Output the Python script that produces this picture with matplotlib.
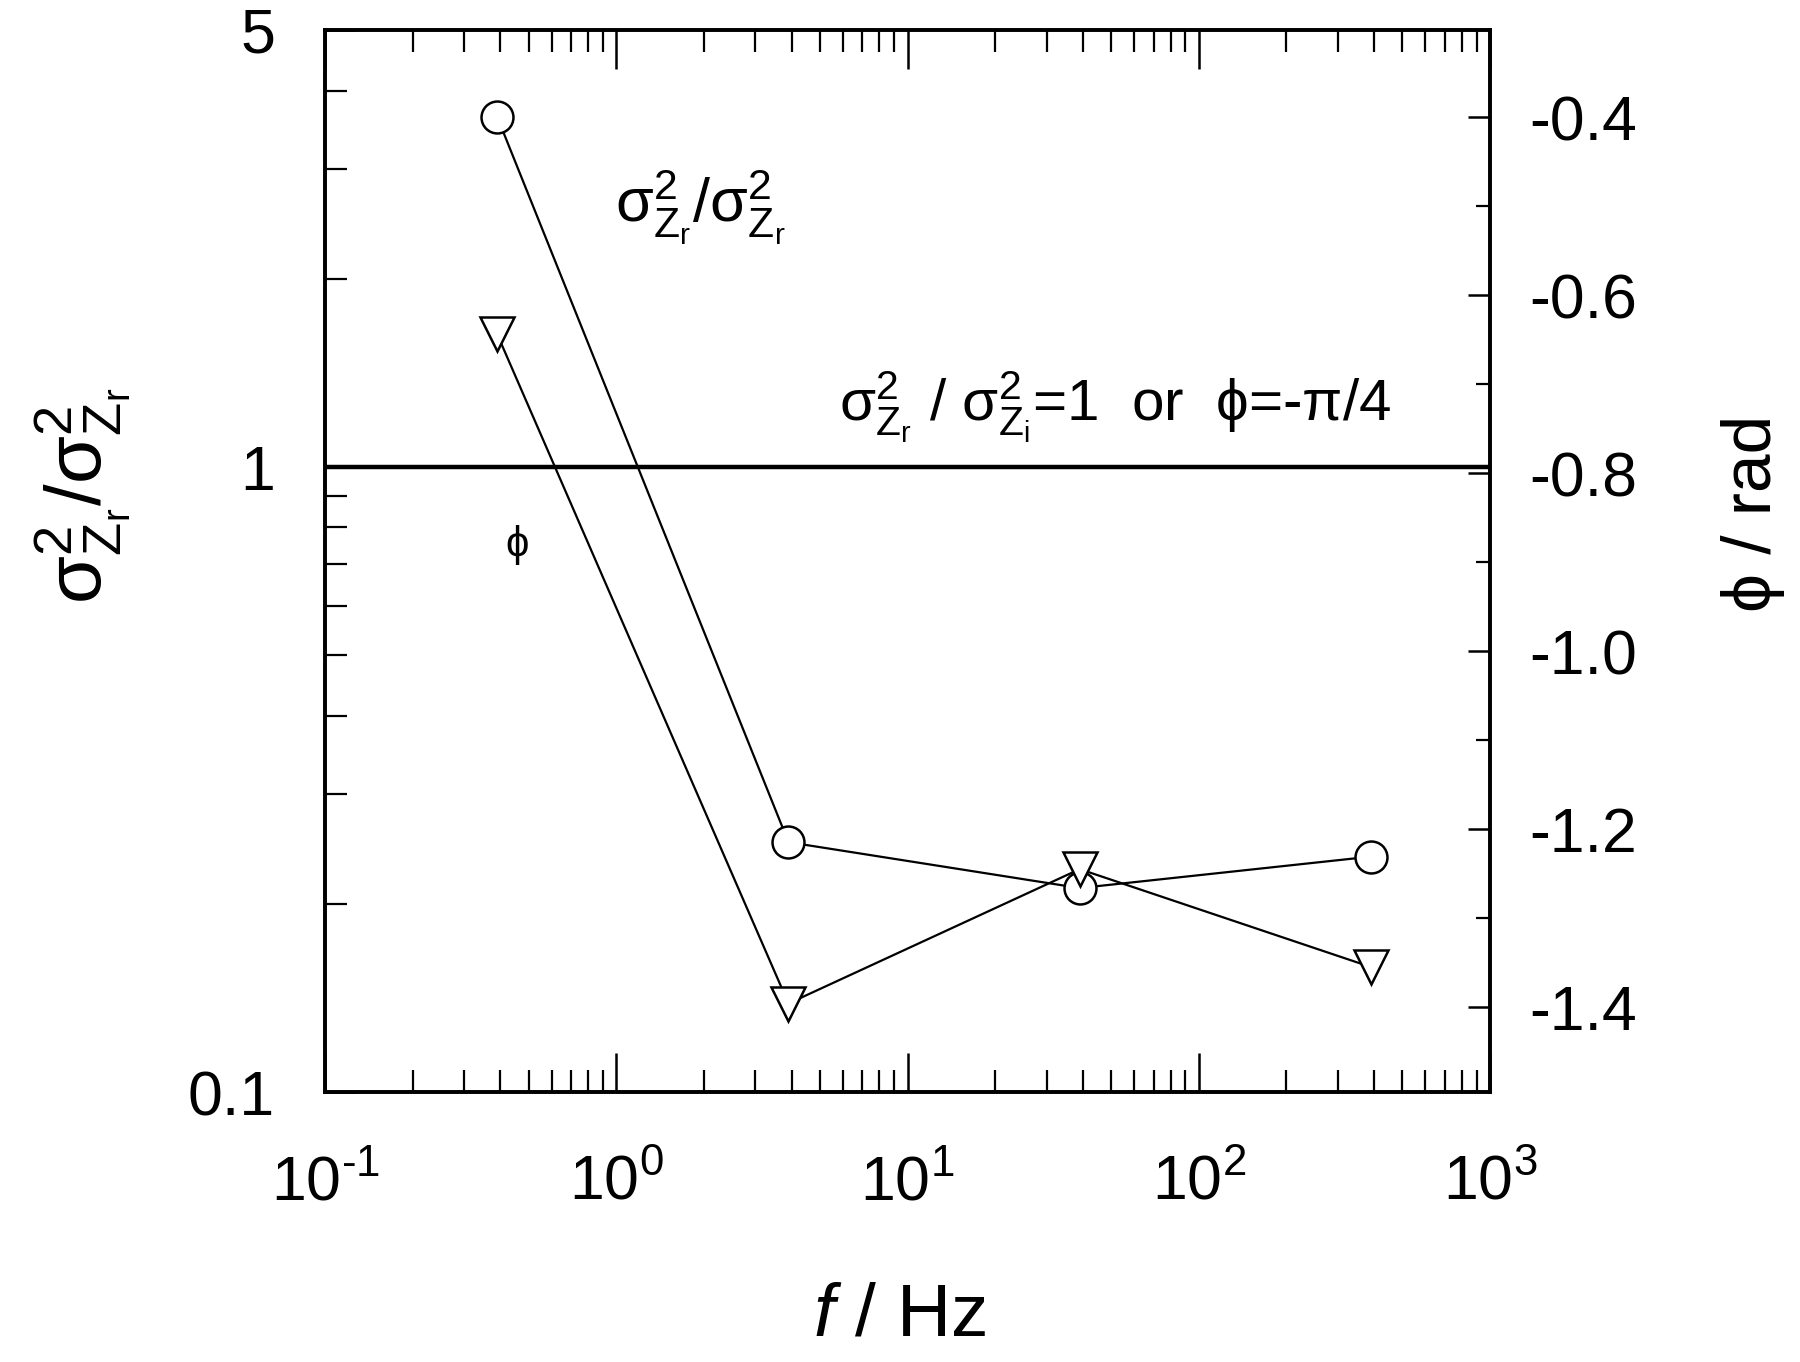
import numpy as np
import matplotlib
matplotlib.use('Agg')
import matplotlib.pyplot as plt
from matplotlib.ticker import FixedLocator, NullFormatter, LogLocator

plt.rcParams['font.family'] = ['Liberation Sans', 'DejaVu Sans']
plt.rcParams['mathtext.fontset'] = 'custom'
plt.rcParams['mathtext.rm'] = 'Liberation Sans'
plt.rcParams['mathtext.it'] = 'Liberation Sans:italic'
plt.rcParams['mathtext.default'] = 'rm'

# dati
freq = [0.39, 3.9, 39, 390]
ratio = [3.63, 0.251, 0.212, 0.238]      # sigma^2 Zr / sigma^2 Zr (asse sinistro, log)
phi = [-0.644, -1.396, -1.245, -1.355]   # fase (asse destro)

xtick_vals = [0.1, 1, 10, 100, 1000]
xtick_labels = [r'$10^{\text{-}1}$', r'$10^{0}$', r'$10^{1}$', r'$10^{2}$', r'$10^{3}$']
ytick_vals = [0.1, 1, 5]
ytick_labels = ['0.1', '1', '5']
phitick_vals = [-1.4, -1.2, -1.0, -0.8, -0.6, -0.4]
phitick_labels = ['-1.4', '-1.2', '-1.0', '-0.8', '-0.6', '-0.4']

fig = plt.figure(figsize=(18, 13.62), dpi=100)
ax = fig.add_axes([0.1806, 0.1982, 0.6472, 0.7798])
ax2 = ax.twinx()

ax.set_xscale('log')
ax.set_yscale('log')
ax.set_xlim(0.1, 1000)
ax.set_ylim(0.1, 5)
ax2.set_ylim(-1.4955, -0.302)

ax.axhline(1, color='black', lw=3.2, zorder=1)

ax.plot(freq, ratio, '-', color='black', lw=1.6, marker='o', ms=23,
        mfc='white', mec='black', mew=1.8, zorder=3)
ax2.plot(freq, phi, '-', color='black', lw=1.6, marker='v', ms=25,
         mfc='white', mec='black', mew=1.8, zorder=3)

# assi
for a in (ax, ax2):
    for s in a.spines.values():
        s.set_linewidth(2.6)

ax.xaxis.set_major_locator(FixedLocator(xtick_vals))
ax.xaxis.set_minor_locator(LogLocator(base=10, subs=np.arange(2, 10), numticks=20))
ax.xaxis.set_minor_formatter(NullFormatter())
ax.set_xticklabels(xtick_labels)

ax.yaxis.set_major_locator(FixedLocator(ytick_vals))
ax.yaxis.set_minor_locator(FixedLocator([0.2, 0.3, 0.4, 0.5, 0.6, 0.7, 0.8, 0.9, 2, 3, 4]))
ax.yaxis.set_minor_formatter(NullFormatter())
ax.set_yticklabels(ytick_labels)

ax2.yaxis.set_major_locator(FixedLocator(phitick_vals))
ax2.yaxis.set_minor_locator(FixedLocator([-1.3, -1.1, -0.9, -0.7, -0.5]))
ax2.set_yticklabels(phitick_labels)

ax.tick_params(axis='x', which='both', direction='in', top=True, labelsize=45, pad=44)
ax.tick_params(axis='x', which='major', length=28, width=1.8)
ax.tick_params(axis='x', which='minor', length=16, width=1.6)
ax.tick_params(axis='y', which='both', direction='in', right=False, labelsize=45, pad=36)
ax.tick_params(axis='y', which='major', length=22, width=1.8)
ax.tick_params(axis='y', which='minor', length=16, width=1.6)
ax2.tick_params(axis='y', which='both', direction='in', labelsize=45, pad=28)
ax2.tick_params(axis='y', which='major', length=16, width=1.8)
ax2.tick_params(axis='y', which='minor', length=10, width=1.6)

# etichette
fig.text(0.046, 0.636, r'$\sigma^2_{Z_r}/\sigma^2_{Z_r}$', rotation=90,
         ha='center', va='center', fontsize=56)
fig.text(0.974, 0.623, 'ϕ / rad', rotation=90, ha='center', va='center', fontsize=50)
fig.text(0.5, 0.034, r'$\mathit{f}$ / Hz', ha='center', va='center', fontsize=54)

ax.text(1.95, 2.6, r'$\sigma^2_{Z_r}/\sigma^2_{Z_r}$', ha='center', va='center', fontsize=44)
ax.text(0.455, 0.75, 'ϕ', ha='center', va='center', fontsize=30)
ax.text(5.8, 1.25, r'$\sigma^2_{Z_r}\ /\ \sigma^2_{Z_i}$=1  or  ϕ=-π/4',
        ha='left', va='center', fontsize=42)

fig.savefig('out.png', dpi=100)
